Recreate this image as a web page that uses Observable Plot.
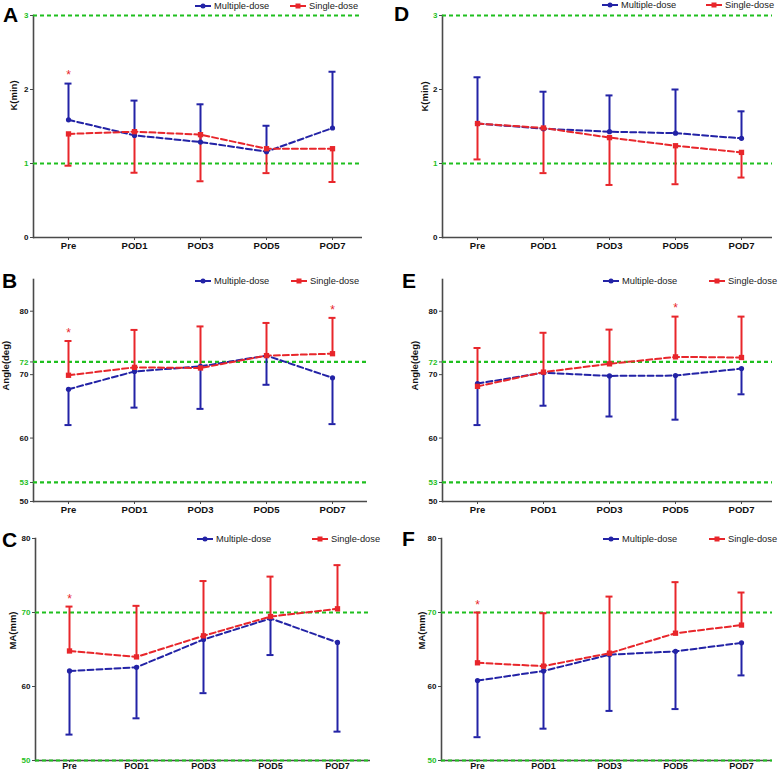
<!DOCTYPE html>
<html><head><meta charset="utf-8">
<script src="https://cdn.jsdelivr.net/npm/d3@7"></script>
<script src="https://cdn.jsdelivr.net/npm/@observablehq/plot@0.6"></script>
<style>
body{margin:0;background:#fff;}
#wrap{position:relative;width:778px;height:773px;overflow:hidden;background:#fff;font-family:"Liberation Sans",Arial,sans-serif;}
#wrap svg.plotsvg{position:absolute;}
#overlay{position:absolute;left:0;top:0;pointer-events:none;}
</style>
</head><body><div id="wrap"></div>
<script>
const categories = ["Pre","POD1","POD3","POD5","POD7"];
const seriesNames = ["Multiple-dose","Single-dose"];

// Panel A: K(min)
const A_multiMean = [1.59, 1.38, 1.29, 1.16, 1.48];
const A_multiErr  = [2.08, 1.85, 1.80, 1.51, 2.24];
const A_singleMean = [1.40, 1.43, 1.39, 1.20, 1.20];
const A_singleErr  = [0.97, 0.875, 0.76, 0.87, 0.75];
const A_starCats = ["Pre"]; const A_starVals = [2.23];
// Panel B: Angle(deg)
const B_multiMean = [67.7, 70.5, 71.3, 73.0, 69.5];
const B_multiErr  = [62.05, 64.8, 64.6, 68.4, 62.2];
const B_singleMean = [69.9, 71.15, 71.05, 73.0, 73.3];
const B_singleErr  = [75.3, 77.05, 77.6, 78.15, 78.95];
const B_starCats = ["Pre","POD7"]; const B_starVals = [77.0, 80.6];
// Panel C: MA(mm)
const C_multiMean = [62.1, 62.6, 66.35, 69.2, 65.95];
const C_multiErr  = [53.5, 55.7, 59.1, 64.25, 53.9];
const C_singleMean = [64.8, 64.0, 66.85, 69.45, 70.5];
const C_singleErr  = [70.8, 70.9, 74.25, 74.85, 76.4];
const C_starCats = ["Pre"]; const C_starVals = [72.2];
// Panel D: K(min)
const D_multiMean = [1.54, 1.47, 1.43, 1.41, 1.34];
const D_multiErr  = [2.165, 1.97, 1.92, 2.00, 1.705];
const D_singleMean = [1.54, 1.48, 1.35, 1.24, 1.15];
const D_singleErr  = [1.055, 0.87, 0.71, 0.72, 0.81];
const D_starCats = []; const D_starVals = [];
// Panel E: Angle(deg)
const E_multiMean = [68.6, 70.3, 69.8, 69.85, 70.95];
const E_multiErr  = [62.05, 65.1, 63.4, 62.9, 66.9];
const E_singleMean = [68.15, 70.4, 71.7, 72.8, 72.7];
const E_singleErr  = [74.2, 76.6, 77.1, 79.15, 79.15];
const E_starCats = ["POD5"]; const E_starVals = [81.0];
// Panel F: MA(mm)
const F_multiMean = [60.8, 62.1, 64.3, 64.75, 65.9];
const F_multiErr  = [53.15, 54.3, 56.7, 56.95, 61.5];
const F_singleMean = [63.2, 62.75, 64.5, 67.2, 68.3];
const F_singleErr  = [70.0, 69.9, 72.15, 74.1, 72.7];
const F_starCats = ["Pre"]; const F_starVals = [71.4];

// axis definitions
const K_domain = [0, 3], K_ticks = [0, 2], K_refs = [1, 3];
const Ang_domain = [50, 85], Ang_ticks = [50, 60, 70, 80], Ang_refs = [53, 72];
const MA_domain = [50, 80], MA_ticks = [60, 80], MA_refs = [50, 70];

const BLUE = "#2323a6", RED = "#e8262b", GREEN = "#1fbf1f", AXIS = "#4a4a4a";
const FONT = "Liberation Sans, Arial, sans-serif";

const panels = [
  {letter:"A", left:0, top:0, width:389, height:255, mL:33, mR:27, mT:15, mB:18, inL:34, inR:29, xts:3, xtp:2, xfs:9.5,
   mm:A_multiMean, me:A_multiErr, sm:A_singleMean, se:A_singleErr, sc:A_starCats, sv:A_starVals,
   domain:K_domain, ticks:K_ticks, refs:K_refs, label:"K(min)", ldx:-20, ldy:-16,
   letterX:3, letterY:22, legY:6, legB:195, legR:290},
  {letter:"B", left:0, top:262, width:389, height:257, mL:33, mR:22, mT:17, mB:18, inL:34, inR:34, xts:3, xtp:2, xfs:9.5,
   mm:B_multiMean, me:B_multiErr, sm:B_singleMean, se:B_singleErr, sc:B_starCats, sv:B_starVals,
   domain:Ang_domain, ticks:Ang_ticks, refs:Ang_refs, label:"Angle(deg)", ldx:-28, ldy:0,
   letterX:2, letterY:288, legY:281, legB:195, legR:291},
  {letter:"C", left:0, top:520, width:389, height:253, mL:35, mR:19, mT:18, mB:13, inL:34, inR:33, xts:2, xtp:0, xfs:9,
   mm:C_multiMean, me:C_multiErr, sm:C_singleMean, se:C_singleErr, sc:C_starCats, sv:C_starVals,
   domain:MA_domain, ticks:MA_ticks, refs:MA_refs, label:"MA(mm)", ldx:-23, ldy:0,
   letterX:2, letterY:547, legY:539, legB:197, legR:312},
  {letter:"D", left:389, top:0, width:389, height:255, mL:53, mR:6, mT:15, mB:18, inL:33, inR:30, xts:3, xtp:2, xfs:9.5,
   mm:D_multiMean, me:D_multiErr, sm:D_singleMean, se:D_singleErr, sc:D_starCats, sv:D_starVals,
   domain:K_domain, ticks:K_ticks, refs:K_refs, label:"K(min)", ldx:-18, ldy:-15,
   letterX:394, letterY:21, legY:5, legB:602, legR:706},
  {letter:"E", left:389, top:262, width:389, height:257, mL:53, mR:6, mT:17, mB:18, inL:33, inR:30, xts:3, xtp:2, xfs:9.5,
   mm:E_multiMean, me:E_multiErr, sm:E_singleMean, se:E_singleErr, sc:E_starCats, sv:E_starVals,
   domain:Ang_domain, ticks:Ang_ticks, refs:Ang_refs, label:"Angle(deg)", ldx:-28, ldy:0,
   letterX:402, letterY:288, legY:281, legB:603, legR:709},
  {letter:"F", left:389, top:520, width:389, height:253, mL:52, mR:6, mT:18, mB:13, inL:34, inR:30, xts:2, xtp:0, xfs:9,
   mm:F_multiMean, me:F_multiErr, sm:F_singleMean, se:F_singleErr, sc:F_starCats, sv:F_starVals,
   domain:MA_domain, ticks:MA_ticks, refs:MA_refs, label:"MA(mm)", ldx:-20, ldy:0,
   letterX:402, letterY:546, legY:539, legB:603, legR:709}
];

const wrap = document.getElementById("wrap");

for (const p of panels) {
  const multi = categories.map((c, i) => ({cat: c, mean: p.mm[i], err: p.me[i]}));
  const single = categories.map((c, i) => ({cat: c, mean: p.sm[i], err: p.se[i]}));
  const stars = p.sc.map((c, i) => ({cat: c, v: p.sv[i]}));
  const chart = Plot.plot({
    width: p.width, height: p.height,
    marginLeft: p.mL, marginRight: p.mR, marginTop: p.mT, marginBottom: p.mB,
    style: {background: "transparent", overflow: "visible", fontFamily: FONT},
    x: {type: "point", domain: categories, padding: 0, insetLeft: p.inL, insetRight: p.inR, axis: null},
    y: {domain: p.domain, axis: null},
    marks: [
      Plot.frame({anchor: "left", stroke: AXIS, strokeWidth: 1.6}),
      Plot.ruleY([p.domain[0]], {stroke: AXIS, strokeWidth: 1.6}),
      Plot.axisX({tickSize: p.xts, tickPadding: p.xtp, fontSize: p.xfs, fontWeight: "bold", label: null, stroke: AXIS, fill: "#111"}),
      Plot.axisY({ticks: p.ticks, tickSize: 3, tickPadding: 2, fontSize: 8, fontWeight: "bold", label: null, stroke: AXIS, fill: "#111", tickFormat: d => String(d)}),
      Plot.axisY({ticks: p.refs, tickSize: 3, tickPadding: 2, fontSize: 8, fontWeight: "bold", label: null, stroke: AXIS, fill: GREEN, tickFormat: d => String(d)}),
      Plot.ruleY(p.refs, {stroke: GREEN, strokeWidth: 2.2, strokeDasharray: "4,3"}),
      Plot.ruleX(multi, {x: "cat", y1: "mean", y2: "err", stroke: BLUE, strokeWidth: 2}),
      Plot.ruleY(multi, {x1: "cat", x2: "cat", y: "err", stroke: BLUE, strokeWidth: 2, insetLeft: -3.5, insetRight: -3.5}),
      Plot.ruleX(single, {x: "cat", y1: "mean", y2: "err", stroke: RED, strokeWidth: 2}),
      Plot.ruleY(single, {x1: "cat", x2: "cat", y: "err", stroke: RED, strokeWidth: 2, insetLeft: -3.5, insetRight: -3.5}),
      Plot.line(multi, {x: "cat", y: "mean", stroke: BLUE, strokeWidth: 2, strokeDasharray: "6,3"}),
      Plot.line(single, {x: "cat", y: "mean", stroke: RED, strokeWidth: 2, strokeDasharray: "6,3"}),
      Plot.dot(multi, {x: "cat", y: "mean", fill: BLUE, r: 2.6}),
      Plot.dot(single, {x: "cat", y: "mean", fill: RED, symbol: "square", r: 3}),
      Plot.text(stars, {x: "cat", y: "v", text: () => "*", fill: RED, fontSize: 12, dy: 3}),
      Plot.text([p.label], {frameAnchor: "left", text: d => d, rotate: -90, dx: p.ldx, dy: p.ldy, fontSize: 9.5, fontWeight: "bold", fill: "#111"})
    ]
  });
  chart.classList.add("plotsvg");
  chart.style.position = "absolute";
  chart.style.left = p.left + "px";
  chart.style.top = p.top + "px";
  wrap.appendChild(chart);
}

// overlay: panel letters and legends
const ov = d3.select(wrap).append("svg").attr("id", "overlay").attr("width", 778).attr("height", 773)
  .style("font-family", FONT);
for (const p of panels) {
  ov.append("text").attr("x", p.letterX).attr("y", p.letterY).attr("font-size", 21).attr("font-weight", "bold").attr("fill", "#000").text(p.letter);
  const items = [{x: p.legB, color: BLUE, sq: false, name: seriesNames[0]}, {x: p.legR, color: RED, sq: true, name: seriesNames[1]}];
  for (const it of items) {
    const g = ov.append("g").attr("transform", `translate(${it.x},${p.legY})`);
    g.append("line").attr("x1", 0).attr("x2", 16).attr("y1", 0).attr("y2", 0).attr("stroke", it.color).attr("stroke-width", 2);
    if (it.sq) g.append("rect").attr("x", 5.5).attr("y", -2.5).attr("width", 5).attr("height", 5).attr("fill", it.color);
    else g.append("circle").attr("cx", 8).attr("cy", 0).attr("r", 2.5).attr("fill", it.color);
    g.append("text").attr("x", 19).attr("y", 3.3).attr("font-size", 9.3).attr("fill", "#222").text(it.name);
  }
}
</script>
</body></html>
